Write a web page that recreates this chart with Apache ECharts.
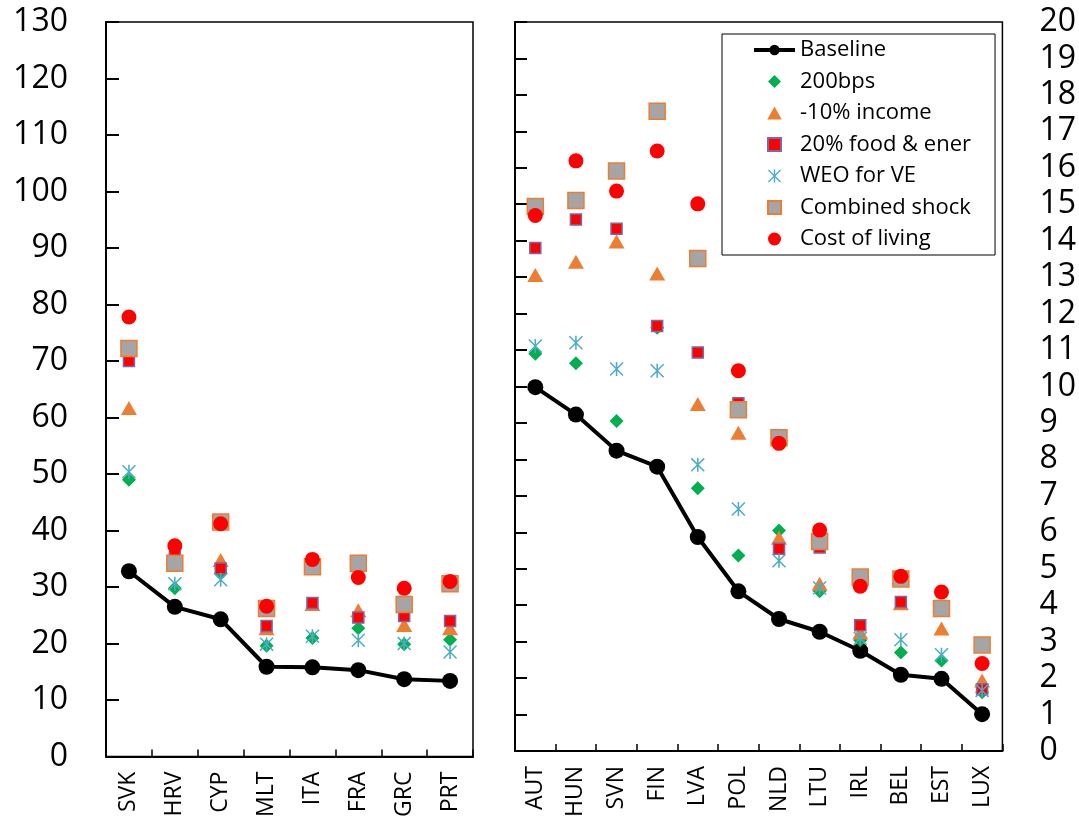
<!DOCTYPE html>
<html>
<head>
<meta charset="utf-8">
<script src="https://cdn.jsdelivr.net/npm/echarts@6/dist/echarts.min.js"></script>
<style>
html,body{margin:0;padding:0;background:#fff;}
#chart{width:1079px;height:820px;}
</style>
</head>
<body>
<div id="chart"></div>
<script>
// ---- data ----
const leftCats = ['SVK','HRV','CYP','MLT','ITA','FRA','GRC','PRT'];
const leftBaseline = [32.8, 26.5, 24.3, 15.9, 15.8, 15.3, 13.7, 13.4];
const left200bps   = [49.0, 29.8, 32.4, 19.6, 21.0, 22.7, 19.9, 20.7];
const leftIncome   = [61.7, 34.0, 34.8, 22.7, 27.0, 25.9, 23.3, 22.7];
const leftFood     = [70.0, 35.3, 33.3, 23.1, 27.2, 24.6, 24.9, 24.0];
const leftWEO      = [50.4, 30.6, 31.3, 19.9, 21.3, 20.6, 20.0, 18.5];
const leftCombined = [72.2, 34.2, 41.5, 26.2, 33.6, 34.2, 26.9, 30.6];
const leftCost     = [77.8, 37.3, 41.2, 26.6, 34.9, 31.7, 29.8, 31.0];

const rightCats = ['AUT','HUN','SVN','FIN','LVA','POL','NLD','LTU','IRL','BEL','EST','LUX'];
const rightBaseline = [9.98, 9.23, 8.24, 7.80, 5.87, 4.38, 3.62, 3.27, 2.75, 2.09, 1.98, 1.01];
const right200bps   = [10.90, 10.64, 9.05, 11.61, 7.21, 5.36, 6.05, 4.38, 3.04, 2.70, 2.48, 1.61];
const rightIncome   = [13.06, 13.42, 13.98, 13.10, 9.52, 8.73, 5.85, 4.59, 3.25, 4.05, 3.36, 1.93];
const rightFood     = [13.80, 14.58, 14.33, 11.66, 10.93, 9.54, 5.55, 5.58, 3.45, 4.09, 3.85, 1.69];
const rightWEO      = [11.11, 11.20, 10.48, 10.43, 7.85, 6.64, 5.22, 4.47, 3.09, 3.05, 2.64, 1.66];
const rightCombined = [14.94, 15.10, 15.91, 17.55, 13.51, 9.36, 8.59, 5.75, 4.77, 4.72, 3.91, 2.91];
const rightCost     = [14.69, 16.19, 15.36, 16.46, 15.01, 10.43, 8.44, 6.06, 4.52, 4.79, 4.36, 2.40];

const seriesNames = ['Baseline','200bps','-10% income','20% food & ener','WEO for VE','Combined shock','Cost of living'];

// ---- styles ----
const FONT = 'Open Sans';
const asterisk = 'path://M8.9,0 L11.1,0 L11.1,20 L8.9,20 Z M0,1.5 L1.5,0 L20,18.5 L18.5,20 Z M18.5,0 L20,1.5 L1.5,20 L0,18.5 Z';
const diamondPath = 'path://M10,0 L20,10 L10,20 L0,10 Z';
const trianglePath = 'path://M10,0 L20,18 L0,18 Z';
const squarePath = 'path://M0,0 L20,0 L20,20 L0,20 Z';
const styles = {
  'Baseline':        {type:'line', symbol:'circle', symbolSize:16, itemStyle:{color:'#000', opacity:1}, lineStyle:{color:'#000', width:4}},
  '200bps':          {type:'scatter', symbol:'diamond', symbolSize:14, itemStyle:{color:'#00B050', opacity:1}},
  '-10% income':     {type:'scatter', symbol:'triangle', symbolSize:[16,14], itemStyle:{color:'#ED7D31', opacity:1}},
  '20% food & ener': {type:'scatter', symbol:'rect', symbolSize:11, itemStyle:{color:'#FF0000', borderColor:'#7B68A6', borderWidth:1.5, opacity:1}},
  'WEO for VE':      {type:'scatter', symbol:asterisk, symbolSize:14, itemStyle:{color:'#4BACC6', opacity:1}},
  'Combined shock':  {type:'scatter', symbol:'rect', symbolSize:16, itemStyle:{color:'#A5A5A5', borderColor:'#ED7D31', borderWidth:1.5, opacity:1}},
  'Cost of living':  {type:'scatter', symbol:'circle', symbolSize:15, itemStyle:{color:'#FF0000', opacity:1}}
};
const legendIcons = {
  '200bps': diamondPath,
  '-10% income': trianglePath,
  '20% food & ener': squarePath,
  'WEO for VE': asterisk,
  'Combined shock': squarePath,
  'Cost of living': 'circle'
};
const leftData  = [leftBaseline, left200bps, leftIncome, leftFood, leftWEO, leftCombined, leftCost];
const rightData = [rightBaseline, right200bps, rightIncome, rightFood, rightWEO, rightCombined, rightCost];

const series = [];
seriesNames.forEach((n, i) => {
  const s = styles[n];
  [[0, 0, leftData[i]], [1, 1, rightData[i]]].forEach(([xi, yi, d]) => {
    const o = Object.assign({name:n, xAxisIndex:xi, yAxisIndex:yi, data:d, animation:false, z:2+i*0.01}, JSON.parse(JSON.stringify(s)));
    if (s.type === 'line') { o.showSymbol = true; o.smooth = false; }
    series.push(o);
  });
});

const legendData = seriesNames.map(n => {
  if (n === 'Baseline') return {name:n, lineStyle:{width:4}};
  return {name:n, icon:legendIcons[n]};
});

const axisLineStyle = {show:true, lineStyle:{color:'#000', width:2}};
const xAxisBase = (gi, cats) => ({
  type:'category', gridIndex:gi, data:cats, boundaryGap:true,
  axisLine: axisLineStyle,
  axisTick:{show:true, inside:true, length:7, lineStyle:{color:'#000', width:1.5}},
  axisLabel:{rotate:90, margin:15, fontSize:23, color:'#000', fontFamily:FONT},
  splitLine:{show:false}
});

const chart = echarts.init(document.getElementById('chart'), null, {renderer:'canvas'});
chart.setOption({
  backgroundColor:'#fff',
  animation:false,
  textStyle:{fontFamily:FONT},
  grid:[
    {left:106, right:606, top:22, bottom:63, show:true, borderColor:'#000', borderWidth:1.5, backgroundColor:'transparent'},
    {left:515, right:74, top:22, bottom:63, show:true, borderColor:'#000', borderWidth:1.5, backgroundColor:'transparent'}
  ],
  xAxis:[xAxisBase(0, leftCats), xAxisBase(1, rightCats)],
  yAxis:[
    {type:'value', gridIndex:0, min:0, max:130, interval:10, position:'left',
     axisLine:axisLineStyle,
     axisTick:{show:true, inside:true, length:13, lineStyle:{color:'#000', width:2}},
     axisLabel:{margin:38, fontSize:32, color:'#000', fontFamily:FONT},
     splitLine:{show:false}},
    {type:'value', gridIndex:1, min:0, max:20, interval:1, position:'left',
     axisLine:axisLineStyle,
     axisTick:{show:true, inside:true, length:12, lineStyle:{color:'#000', width:2}},
     axisLabel:{show:false},
     splitLine:{show:false}},
    {type:'value', gridIndex:1, min:0, max:20, interval:1, position:'right',
     axisLine:{show:false}, axisTick:{show:false},
     axisLabel:{margin:37, fontSize:32, color:'#000', fontFamily:FONT},
     splitLine:{show:false}}
  ],
  legend:{
    data:legendData, orient:'vertical', left:722, top:34,
    itemWidth:41, itemHeight:13, itemGap:9.5,
    padding:[5,24,5,30],
    borderColor:'#000', borderWidth:1, backgroundColor:'#fff',
    textStyle:{fontSize:22, color:'#000', fontFamily:FONT},
    selectedMode:false
  },
  series: series
});
</script>
</body>
</html>
